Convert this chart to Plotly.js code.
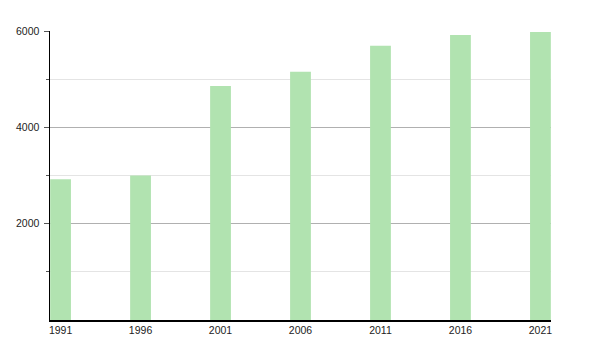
<!DOCTYPE html>
<html>
<head>
<meta charset="utf-8">
<script src="https://cdn.plot.ly/plotly-3.0.1.min.js"></script>
<style>html,body{margin:0;padding:0;background:#fff;}#chart{width:600px;height:350px;}</style>
</head>
<body>
<div id="chart"></div>
<script>
const years = [1991, 1996, 2001, 2006, 2011, 2016, 2021];
const population = [2920, 3000, 4860, 5155, 5695, 5915, 5980];
const xTickLabels = ['1991', '1996', '2001', '2006', '2011', '2016', '2021'];
const yMajorTicks = [2000, 4000, 6000];
const yMinorTicks = [1000, 3000, 5000];

const trace = {
  type: 'bar',
  x: years,
  y: population,
  width: 1.3,
  marker: {color: '#b1e3b0', line: {width: 0}},
  hoverinfo: 'x+y'
};

const layout = {
  width: 600,
  height: 350,
  margin: {l: 50, r: 49, t: 31, b: 30, pad: 0},
  paper_bgcolor: '#ffffff',
  plot_bgcolor: '#ffffff',
  showlegend: false,
  font: {family: 'Liberation Sans, Arial, sans-serif', size: 10.5, color: '#222222'},
  xaxis: {
    range: [1990.34, 2021.66],
    tickmode: 'array',
    tickvals: years,
    ticktext: xTickLabels,
    ticks: '',
    showgrid: false,
    zeroline: false,
    showline: true,
    linecolor: '#000000',
    linewidth: 1.5,
    fixedrange: true
  },
  yaxis: {
    range: [0, 6000],
    tickmode: 'array',
    tickvals: yMajorTicks,
    ticks: 'outside',
    ticklen: 5,
    tickcolor: '#555555',
    ticklabelstandoff: 2,
    showgrid: true,
    gridcolor: '#b0b0b0',
    gridwidth: 1,
    zeroline: false,
    showline: true,
    linecolor: '#000000',
    linewidth: 1.5,
    minor: {
      tickmode: 'array',
      tickvals: yMinorTicks,
      ticks: 'outside',
      ticklen: 3,
      tickcolor: '#555555',
      showgrid: true,
      gridcolor: '#e4e4e4',
      gridwidth: 1
    },
    fixedrange: true
  }
};

Plotly.newPlot('chart', [trace], layout, {displayModeBar: false, staticPlot: true});
</script>
</body>
</html>
